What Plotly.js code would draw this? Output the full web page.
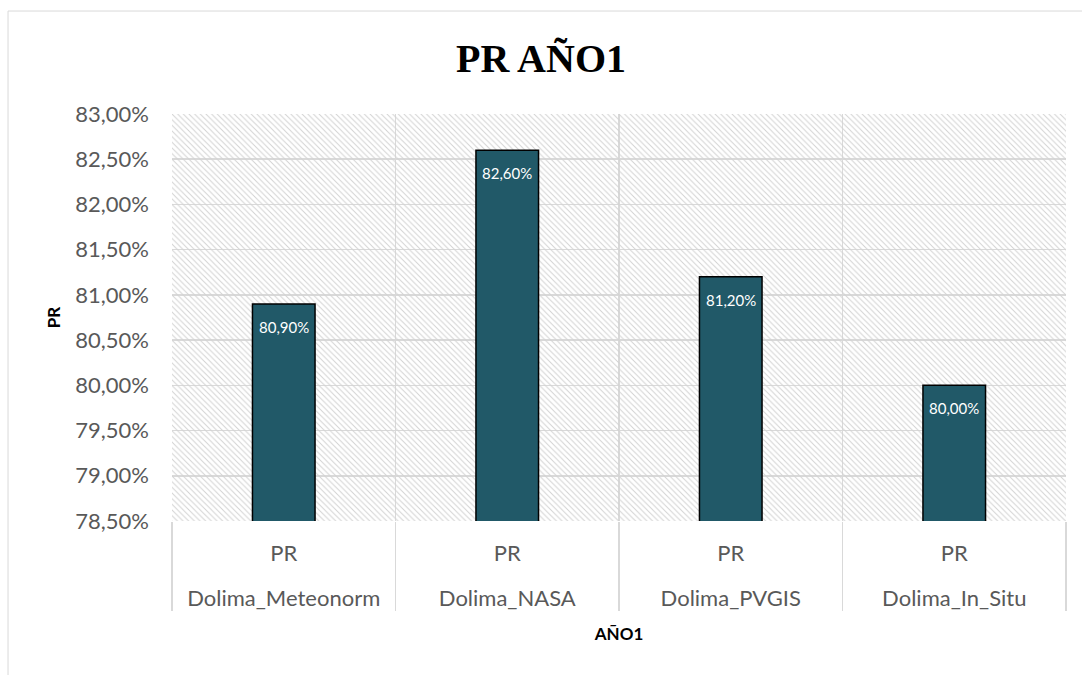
<!DOCTYPE html>
<html>
<head>
<meta charset="utf-8">
<script src="https://cdn.plot.ly/plotly-3.0.1.min.js"></script>
<style>html,body{margin:0;padding:0;background:#fff;}#chart{width:1082px;height:675px;}</style>
</head>
<body>
<div id="chart"></div>
<script>
// Data
const sources = ["Dolima_Meteonorm", "Dolima_NASA", "Dolima_PVGIS", "Dolima_In_Situ"];
const metric = ["PR", "PR", "PR", "PR"];
const prValues = [0.809, 0.826, 0.812, 0.800];
const yRange = [0.785, 0.83];
const chartTitle = "PR AÑO1";
const xTitle = "AÑO1";
const yTitle = "PR";

const FONT = "Lato, 'Open Sans', sans-serif";
const GRID = "#d9d9d9";

// Background hatch spanning the plot area (decoration)
const hatch = {
  type: "bar",
  x: [0.5], y: [yRange[1] - yRange[0]], base: [yRange[0]], width: [1],
  xaxis: "x", yaxis: "y",
  marker: {
    color: "rgba(0,0,0,0)",
    line: {width: 0},
    pattern: {shape: "\\", fgcolor: "#d2d2d2", bgcolor: "rgba(0,0,0,0)", size: 4, solidity: 0.25}
  },
  hoverinfo: "skip", showlegend: false
};

// inner level label gets an extra blank line to space the two label rows like the reference
const innerLabels = metric.map(m => m + "<br><span style='font-size:44px'>&nbsp;</span>");

const bars = {
  type: "bar",
  x: [sources, innerLabels],
  y: prValues,
  xaxis: "x2", yaxis: "y",
  width: 0.28,
  marker: {color: "#215968", line: {color: "#000000", width: 1.5}},
  textposition: "none",
  showlegend: false
};

const n = prValues.length;
const labels = prValues.map((v, i) => ({
  xref: "x", yref: "y",
  x: (i + 0.5) / n, y: v,
  text: (v * 100).toFixed(2).replace(".", ",") + "%",
  showarrow: false,
  yanchor: "middle", yshift: -23,
  font: {family: FONT, size: 15, color: "#ffffff"}
}));

const layout = {
  width: 1082, height: 675,
  margin: {l: 172, r: 16, t: 114, b: 154, pad: 0},
  paper_bgcolor: "#ffffff",
  plot_bgcolor: "#ffffff",
  separators: ",.",
  font: {family: FONT, size: 22, color: "#595959"},
  title: {
    text: "<b>" + chartTitle + "</b>",
    font: {family: "'Liberation Serif', 'DejaVu Serif', serif", size: 40, color: "#000000"},
    x: 0.5, xanchor: "center", y: 0.914, yanchor: "middle"
  },
  bargap: 0,
  barmode: "overlay",
  xaxis: {
    range: [0, 1],
    tickvals: [0, 0.25, 0.5, 0.75, 1],
    showticklabels: false, ticks: "",
    showgrid: true, gridcolor: GRID, gridwidth: 1.5,
    zeroline: false, showline: false, fixedrange: true
  },
  xaxis2: {
    type: "multicategory",
    overlaying: "x", side: "bottom",
    showgrid: false, zeroline: false, showline: false,
    ticks: "", ticklabelstandoff: 17,
    showdividers: true, dividercolor: GRID, dividerwidth: 1.5,
    tickfont: {family: FONT, size: 22, color: "#595959"},
    title: {text: "<b>" + xTitle + "</b>", font: {family: FONT, size: 17, color: "#000000"}, standoff: 18}
  },
  yaxis: {
    range: yRange,
    dtick: 0.005, tick0: 0.785,
    tickformat: ".2%",
    showgrid: true, gridcolor: GRID, gridwidth: 1.5,
    zeroline: false, showline: false,
    ticks: "", ticklabelstandoff: 22,
    tickfont: {family: FONT, size: 22, color: "#595959"},
    title: {text: "<b>" + yTitle + "</b>", font: {family: FONT, size: 17, color: "#000000"}, standoff: 10}
  },
  annotations: labels,
  shapes: [{
    type: "rect", xref: "paper", yref: "paper",
    x0: -0.1834, x1: 1.06, y0: -0.5, y1: 1.253,
    line: {color: GRID, width: 1}, fillcolor: "rgba(0,0,0,0)", layer: "below"
  }]
};

Plotly.newPlot("chart", [hatch, bars], layout, {displayModeBar: false, staticPlot: true});
</script>
</body>
</html>
